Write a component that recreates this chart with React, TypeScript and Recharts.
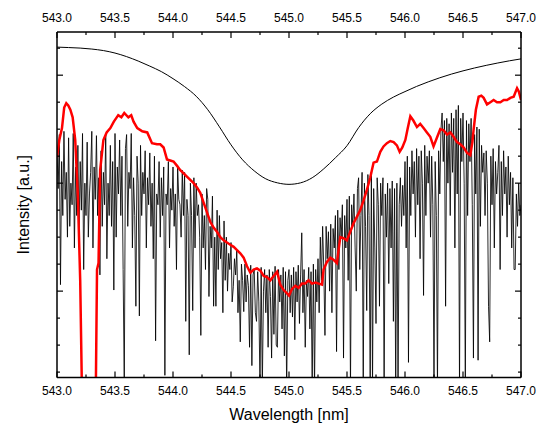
import React from 'react';
import { LineChart, Line, XAxis, YAxis } from 'recharts';

// wavelength ticks (nm), majors every 0.5 with quarter minors
const wavelengthTicks = [
  543, 543.25, 543.5, 543.75, 544, 544.25, 544.5, 544.75, 545,
  545.25, 545.5, 545.75, 546, 546.25, 546.5, 546.75, 547,
];
// intensity ticks (a.u.), majors at 80/180/280, no labels
const intensityTicks = [5, 30, 55, 80, 105, 130, 155, 180, 205, 230, 255, 280, 305];
const majorIntensity = [80, 180, 280];

// measured spectrum, 0.01 nm steps from 543.00
const measuredStart = 543.0;
const measuredStep = 0.01;
const measuredIntensity = [
  211, 175, 225, 86, 200, 150, 228, 165, 190, 130,
  222, 140, 180, 160, 226, 120, 195, 150, 215, 135,
  200, 155, 226, 100, 180, 150, 218, 130, 170, 190,
  228, 120, 195, 165, 224, 150, 185, 95, 210, 140,
  190, 160, 225, 110, 180, 150, 215, 140, 200, 81,
  226, 130, 195, 170, 220, 150, 205, 100, -10, 212,
  225, 140, 190, 175, 226, 120, 185, 150, 66, 205,
  180, 57, 215, 150, 190, 170, 210, 120, 185, 160,
  208, 140, 180, 110, 205, 34, 170, 160, 200, 130,
  185, 150, 195, 2, 170, 160, 200, 120, 175, 155,
  195, 140, 170, 100, 196, 165, 160, 130, 192, 150,
  190, 52, 165, 150, 21, 180, 150, 62, 185, 120,
  180, 150, 160, 130, 39, 170, 120, 150, 100, 175,
  165, 75, 140, 120, 168, 66, 130, 66, 155, 100,
  150, 110, 125, 60, 145, 90, 130, 80, 115, 100,
  125, 70, 84, 110, 95, 118, 60, 90, 33, 105,
  90, 61, 105, 70, 95, 85, 28, 104, 11, 95,
  100, 60, 52, 98, 70, -10, 102, -10, 80, 100,
  60, 95, 28, 100, 75, 18, 98, 40, 103, 30,
  28, 100, 70, 95, 45, 102, 20, 98, -10, 90,
  100, 60, 95, 56, 102, 35, 98, 70, 104, 50,
  95, 134, 60, 100, 28, 90, 75, 102, 45, 98,
  -10, 105, -10, 100, 70, 110, 60, 130, 90, 140,
  100, 39, 140, 110, 135, 80, 142, 60, 138, 120,
  150, 24, 155, 100, 148, 130, 160, 18, 150, 120,
  165, 90, 168, -10, 160, 140, 170, 120, 80, 175,
  185, 100, 150, 190, -10, 180, 140, 62, 188, 150,
  -10, 190, -10, 175, 120, 50, 185, 160, 66, 180,
  150, 185, -10, 170, 130, 180, 87, 175, 120, 182,
  52, 175, -10, 180, -10, 160, 185, 140, 178, 150,
  200, 120, 205, 14, 195, 150, 210, 170, 200, 130,
  212, 160, 205, 110, 210, 180, 76, 215, 150, 205,
  180, 210, 130, 205, 160, -10, 200, 150, -10, 210,
  170, 230, 245, 200, 238, 66, 240, 180, 235, 150,
  245, 190, 240, 120, 248, 170, 252, -10, 240, 200,
  245, 180, -10, 238, 150, 235, 200, 240, 160, 18,
  225, 170, 232, 16, 230, 140, 215, 190, 208, 150,
  210, 180, 66, 33, 205, 160, 212, 120, 200, 170,
  190, 215, 100, 200, 150, 210, 170, 195, 130, 205,
  160, 190, 120, 185, 100, 100, 170, 140, 180, 150,
  160,
];

// smoothed spectrum (red)
const smoothWavelength = [
  543.0, 543.02, 543.043, 543.062, 543.08, 543.097, 543.115, 543.135, 543.157, 543.18,
  543.2, 543.222, 543.33, 543.345, 543.358, 543.372, 543.4, 543.428, 543.46, 543.49,
  543.528, 543.555, 543.58, 543.615, 543.64, 543.66, 543.692, 543.735, 543.778, 543.819,
  543.862, 543.89, 543.919, 543.948, 543.976, 544.005, 544.035, 544.063, 544.092, 544.12,
  544.149, 544.178, 544.207, 544.235, 544.264, 544.293, 544.322, 544.35, 544.379, 544.408,
  544.437, 544.465, 544.494, 544.523, 544.552, 544.58, 544.609, 544.638, 544.667, 544.695,
  544.724, 544.753, 544.782, 544.81, 544.839, 544.868, 544.897, 544.925, 544.954, 544.983,
  545.0, 545.026, 545.054, 545.083, 545.112, 545.14, 545.169, 545.198, 545.227, 545.256,
  545.284, 545.298, 545.327, 545.356, 545.384, 545.413, 545.442, 545.47, 545.499, 545.528,
  545.557, 545.586, 545.614, 545.643, 545.672, 545.7, 545.729, 545.758, 545.787, 545.815,
  545.844, 545.873, 545.902, 545.93, 545.954, 545.977, 546.003, 546.024, 546.046, 546.072,
  546.103, 546.131, 546.16, 546.189, 546.218, 546.246, 546.275, 546.304, 546.333, 546.362,
  546.391, 546.419, 546.448, 546.477, 546.506, 546.535, 546.563, 546.581, 546.592, 546.611,
  546.635, 546.658, 546.678, 546.707, 546.736, 546.764, 546.793, 546.822, 546.851, 546.88,
  546.908, 546.937, 546.966, 546.981, 547.0,
];
const smoothIntensity = [
  204, 220, 231, 250, 254, 252, 248, 241, 220, 168,
  90, -60, -60, 100, 106, 192, 220, 227, 231, 237,
  243, 241, 245, 241, 243, 237, 231, 228, 227, 217,
  216, 216, 213, 202, 201, 200, 196, 192, 189, 186,
  183, 180, 176, 171, 162, 153, 144, 139, 135, 130,
  127, 125, 123, 121, 118, 115, 111, 103, 97, 100,
  101, 99, 94, 93, 90, 94, 98, 86, 81, 78,
  76, 82, 85, 83, 87, 87, 90, 87, 88, 87,
  86, 100, 107, 111, 109, 106, 130, 129, 127, 135,
  143, 149, 155, 164, 174, 185, 199, 200, 209, 214,
  217, 219, 218, 215, 209, 213, 220, 231, 242, 238,
  232, 235, 231, 227, 223, 214, 222, 230, 229, 225,
  227, 223, 218, 216, 213, 208, 206, 218, 230, 248,
  260, 261, 259, 253, 255, 257, 255, 255, 257, 257,
  259, 260, 268, 265, 257,
];

// fitted line profile (thin black)
const fitWavelength = [
  543.0, 543.1, 543.2, 543.3, 543.4, 543.5, 543.6, 543.7, 543.8, 543.9,
  544.0, 544.1, 544.2, 544.3, 544.4, 544.5, 544.6, 544.7, 544.8, 544.9,
  545.0, 545.1, 545.2, 545.3, 545.4, 545.5, 545.6, 545.7, 545.8, 545.9,
  546.0, 546.1, 546.2, 546.3, 546.4, 546.5, 546.6, 546.7, 546.8, 546.9, 547.0,
];
const fitIntensity = [
  306, 305.6, 305.1, 304.2, 302.8, 300.5, 297.2, 293.1, 288.4, 283.3,
  276.8, 269.4, 260.5, 248.0, 232.2, 215.5, 201.6, 191.4, 184.0, 180.3,
  178.9, 180.3, 185.0, 193.3, 203.5, 214.7, 231.4, 244.3, 253.2, 259.7,
  264.8, 269.6, 273.8, 277.6, 281.0, 284.0, 286.7, 289.1, 291.3, 293.3, 295.1,
];

const measuredData = measuredIntensity.map((v, i) => ({
  x: +(measuredStart + i * measuredStep).toFixed(2),
  y: v,
}));
const smoothData = smoothWavelength.map((x, i) => ({ x, y: smoothIntensity[i] }));
const fitData = fitWavelength.map((x, i) => ({ x, y: fitIntensity[i] }));

const isMajorX = (v: number) => Math.abs(v * 2 - Math.round(v * 2)) < 1e-6;

const BottomTick = ({ x, y, payload }: any) => {
  const major = isMajorX(payload.value);
  return (
    <g>
      <line x1={x} y1={y} x2={x} y2={y - (major ? 6 : 3)} stroke="#000" strokeWidth={1.2} />
      {major && (
        <text x={x} y={y + 17.5} textAnchor="middle" fontSize={12} fill="#000">
          {payload.value.toFixed(1)}
        </text>
      )}
    </g>
  );
};

const TopTick = ({ x, y, payload }: any) => {
  const major = isMajorX(payload.value);
  return (
    <g>
      <line x1={x} y1={y} x2={x} y2={y + (major ? 6 : 3)} stroke="#000" strokeWidth={1.2} />
      {major && (
        <text x={x} y={y - 10.5} textAnchor="middle" fontSize={12} fill="#000">
          {payload.value.toFixed(1)}
        </text>
      )}
    </g>
  );
};

const LeftTick = ({ x, y, payload }: any) => {
  const len = majorIntensity.includes(payload.value) ? 6 : 3;
  return <line x1={x} y1={y} x2={x + len} y2={y} stroke="#000" strokeWidth={1.2} />;
};

const RightTick = ({ x, y, payload }: any) => {
  const len = majorIntensity.includes(payload.value) ? 6 : 3;
  return <line x1={x} y1={y} x2={x - len} y2={y} stroke="#000" strokeWidth={1.2} />;
};

const YTitle = ({ viewBox }: any) => {
  const cx = 23;
  const cy = viewBox.y + viewBox.height / 2;
  return (
    <text
      x={cx}
      y={cy}
      transform={`rotate(-90, ${cx}, ${cy})`}
      textAnchor="middle"
      dominantBaseline="central"
      fontSize={16}
      fill="#000"
    >
      Intensity [a.u.]
    </text>
  );
};

const XTitle = ({ viewBox }: any) => {
  const cx = viewBox.x + viewBox.width / 2;
  return (
    <text x={cx} y={420} textAnchor="middle" fontSize={16} fill="#000">
      Wavelength [nm]
    </text>
  );
};

const axisLine = { stroke: '#000', strokeWidth: 1.5 };

export default function App() {
  return (
    <div
      style={{
        position: 'absolute',
        left: 0,
        top: 0,
        width: 537,
        height: 423,
        background: '#fff',
        fontFamily: '"Liberation Sans", Arial, sans-serif',
      }}
    >
      <LineChart
        width={537}
        height={423}
        margin={{ top: 0, right: 0, bottom: 0, left: 0 }}
      >
        <XAxis
          xAxisId="b"
          type="number"
          dataKey="x"
          domain={[543, 547]}
          ticks={wavelengthTicks}
          interval={0}
          allowDataOverflow
          orientation="bottom"
          height={45.5}
          tickSize={0}
          tickMargin={0}
          tickLine={false}
          axisLine={axisLine}
          tick={<BottomTick />}
          label={<XTitle />}
        />
        <XAxis
          xAxisId="t"
          type="number"
          dataKey="x"
          domain={[543, 547]}
          ticks={wavelengthTicks}
          interval={0}
          allowDataOverflow
          orientation="top"
          height={32}
          tickSize={0}
          tickMargin={0}
          tickLine={false}
          axisLine={axisLine}
          tick={<TopTick />}
        />
        <YAxis
          yAxisId="l"
          type="number"
          domain={[0, 320]}
          ticks={intensityTicks}
          interval={0}
          allowDataOverflow
          orientation="left"
          width={57}
          tickSize={0}
          tickMargin={0}
          tickLine={false}
          axisLine={axisLine}
          tick={<LeftTick />}
          label={<YTitle />}
        />
        <YAxis
          yAxisId="r"
          type="number"
          domain={[0, 320]}
          ticks={intensityTicks}
          interval={0}
          allowDataOverflow
          orientation="right"
          width={16}
          tickSize={0}
          tickMargin={0}
          tickLine={false}
          axisLine={axisLine}
          tick={<RightTick />}
        />
        <Line
          xAxisId="b"
          yAxisId="l"
          data={measuredData}
          dataKey="y"
          type="linear"
          stroke="#000"
          strokeWidth={0.85}
          dot={false}
          isAnimationActive={false}
        />
        <Line
          xAxisId="b"
          yAxisId="l"
          data={smoothData}
          dataKey="y"
          type="linear"
          stroke="#ff0000"
          strokeWidth={2.5}
          dot={false}
          isAnimationActive={false}
        />
        <Line
          xAxisId="b"
          yAxisId="l"
          data={fitData}
          dataKey="y"
          type="monotone"
          stroke="#000"
          strokeWidth={1}
          dot={false}
          isAnimationActive={false}
        />
      </LineChart>
    </div>
  );
}
